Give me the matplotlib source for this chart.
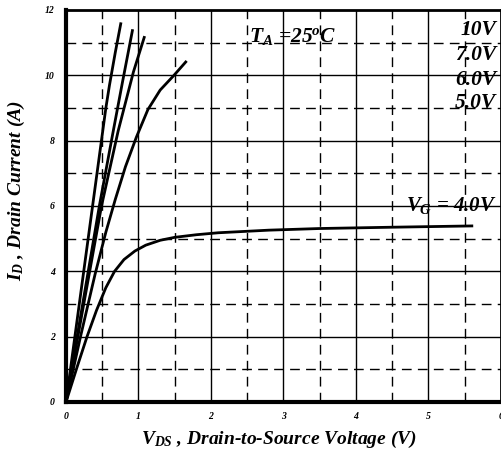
import matplotlib
matplotlib.use("Agg")
import matplotlib.pyplot as plt

plt.rcParams["font.family"] = ["Liberation Serif", "DejaVu Serif"]
plt.rcParams["font.weight"] = "bold"
plt.rcParams["font.style"] = "italic"
plt.rcParams["axes.labelweight"] = "bold"
plt.rcParams["mathtext.fontset"] = "custom"
plt.rcParams["mathtext.it"] = "Liberation Serif:bold:italic"
plt.rcParams["mathtext.rm"] = "Liberation Serif:bold:italic"
plt.rcParams["mathtext.bf"] = "Liberation Serif:bold:italic"

# output curves, V_DS (V) vs I_D (A)
vds_10 = [0, 0.55, 0.60, 0.68, 0.759]
id_10 = [0, 9.0, 9.7, 10.7, 11.62]

vds_7 = [0, 0.46, 0.644, 0.78, 0.92]
id_7 = [0, 6.0, 8.2, 9.8, 11.41]

vds_6 = [0, 0.49, 0.72, 0.93, 1.085]
id_6 = [0, 6.0, 8.3, 10.1, 11.2]

vds_5 = [0, 0.2, 0.4, 0.55, 0.68, 0.82, 0.97, 1.13, 1.3, 1.49, 1.665]
id_5 = [0, 2.0, 3.9, 5.2, 6.2, 7.2, 8.1, 8.95, 9.55, 10.0, 10.44]

vds_4 = [0, 0.15, 0.29, 0.42, 0.55, 0.67, 0.8, 0.95, 1.1, 1.3, 1.5, 1.8, 2.1, 2.8, 3.5, 4.5, 5.62]
id_4 = [0, 1.05, 2.0, 2.8, 3.5, 4.0, 4.36, 4.62, 4.8, 4.95, 5.04, 5.12, 5.18, 5.26, 5.31, 5.35, 5.39]

curves = [(vds_10, id_10), (vds_7, id_7), (vds_6, id_6), (vds_5, id_5), (vds_4, id_4)]

vg_labels = ["10V", "7.0V", "6.0V", "5.0V"]
vg_label_y = [11.39, 10.62, 9.87, 9.14]

fig = plt.figure(figsize=(5.02, 4.62), dpi=100)
ax = fig.add_axes([0.1315, 0.1299, 0.866, 0.8485])

# grid: solid on majors, dashed on halves
for x in [1, 2, 3, 4, 5]:
  ax.axvline(x, color="black", lw=1.0, zorder=1)
for x in [0.5, 1.5, 2.5, 3.5, 4.5, 5.5]:
  ax.axvline(x, color="black", lw=1.0, ls=(0, (7, 4.5)), zorder=1)
for y in [2, 4, 6, 8, 10]:
  ax.axhline(y, color="black", lw=1.0, zorder=1)
for y in [1, 3, 5, 7, 9, 11]:
  ax.axhline(y, color="black", lw=1.0, ls=(0, (7, 4.5)), zorder=1)

for vds, i_d in curves:
  ax.plot(vds, i_d, color="black", lw=2.0, solid_capstyle="butt", solid_joinstyle="round", zorder=3)

ax.set_xlim(0, 6)
ax.set_ylim(0, 12)
ax.set_xticks([0, 1, 2, 3, 4, 5, 6])
ax.set_yticks([0, 2, 4, 6, 8, 10, 12])
ax.tick_params(axis="x", length=0, labelsize=7, pad=7)
ax.tick_params(axis="y", length=0, labelsize=7, pad=8)
for lab in ax.get_xticklabels() + ax.get_yticklabels():
  lab.set_fontweight("bold")
  lab.set_fontstyle("italic")

ax.spines["bottom"].set_linewidth(3)
ax.spines["left"].set_linewidth(3)
ax.spines["top"].set_linewidth(2)
ax.spines["right"].set_linewidth(2)

ax.set_xlabel(r"$V_{DS}$ , Drain-to-Source Voltage (V)", fontsize=14, fontweight="bold")
ax.set_ylabel(r"$I_D$ , Drain Current (A)", fontsize=14, fontweight="bold")
ax.xaxis.set_label_coords(0.49, -0.068)
ax.yaxis.set_label_coords(-0.09, 0.54)

for lab, y in zip(vg_labels, vg_label_y):
  ax.text(5.94, y, lab, fontsize=15.5, ha="right", va="center", zorder=4)
ax.text(5.94, 6.0, r"$V_G$ = 4.0V", fontsize=15, ha="right", va="center", zorder=4)
ax.text(2.52, 11.2, r"$T_A$ =25$^o$C", fontsize=15.5, ha="left", va="center", zorder=4)

fig.savefig("out.png", dpi=100)
